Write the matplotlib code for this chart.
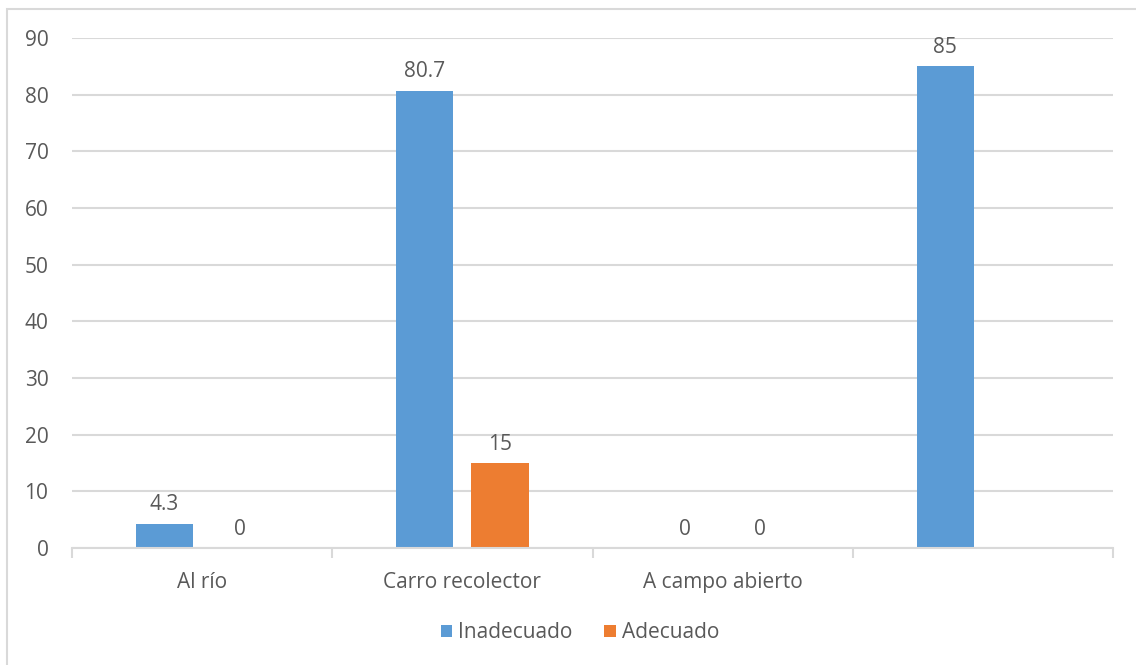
import numpy as np
import matplotlib.pyplot as plt
from matplotlib.patches import Rectangle

categorias = ['Al río', 'Carro recolector', 'A campo abierto', '']
inadecuado = [4.3, 80.7, 0, 85]
adecuado = [0, 15, 0, np.nan]

azul = '#5B9BD5'
naranja = '#ED7D31'
gris = '#595959'
fs = 15

plt.rcParams['font.family'] = ['Open Sans', 'DejaVu Sans']

fig = plt.figure(figsize=(11.36, 6.65), dpi=100)
fig.patches.append(Rectangle((7 / 1136, -0.1), 1.2, 1 - 9 / 665 + 0.1, transform=fig.transFigure,
                             fill=False, edgecolor='#D9D9D9', linewidth=1.5))
ax = fig.add_axes([72 / 1136, 117 / 665, 1041 / 1136, 510 / 665])

x = np.arange(len(categorias))
w = 0.22
b1 = ax.bar(x - 0.145, inadecuado, w, color=azul, label='Inadecuado')
b2 = ax.bar(x + 0.145, adecuado, w, color=naranja, label='Adecuado')

for bars, vals in [(b1, inadecuado), (b2, adecuado)]:
    for r, v in zip(bars, vals):
        if np.isnan(v):
            continue
        ax.annotate(f'{v:g}', (r.get_x() + r.get_width() / 2, v), xytext=(0, 6),
                    textcoords='offset points', ha='center', va='bottom', fontsize=fs, color=gris)

ax.set_xlim(-0.5, len(categorias) - 0.5)
ax.set_ylim(0, 90)
ax.set_yticks(range(0, 91, 10))
ax.set_xticks(x)
ax.set_xticklabels(categorias)
ax.set_xticks(np.arange(-0.5, len(categorias), 1), minor=True)
ax.tick_params(axis='x', which='major', length=0, pad=17, labelsize=fs, labelcolor=gris)
ax.tick_params(axis='x', which='minor', length=7, color='#D9D9D9', width=1.5)
ax.tick_params(axis='y', length=0, pad=17, labelsize=fs, labelcolor=gris)

ax.grid(axis='y', color='#D9D9D9', linewidth=1.5)
ax.set_axisbelow(True)
for s in ['top', 'right', 'left']:
    ax.spines[s].set_visible(False)
ax.spines['bottom'].set_color('#D9D9D9')
ax.spines['bottom'].set_linewidth(1.5)

fig.legend(handles=[b1, b2], loc='center', bbox_to_anchor=(580 / 1136, 1 - 633 / 665), ncol=2,
           frameon=False, fontsize=fs, labelcolor=gris, handlelength=0.55, handleheight=0.55,
           handletextpad=0.3, columnspacing=1.5)

fig.savefig('out.png', dpi=100)
